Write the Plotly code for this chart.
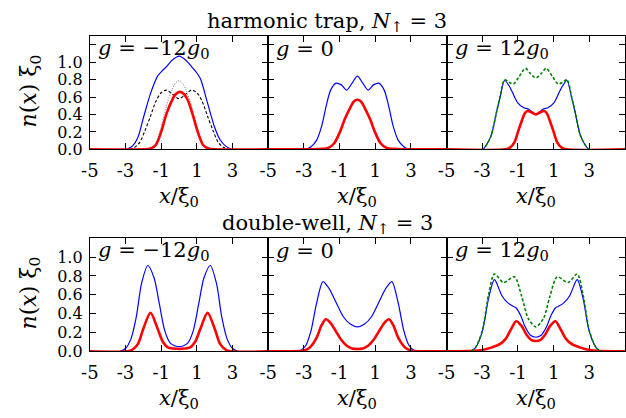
import plotly.graph_objects as go

# ---------------- density profiles n(x) xi_0 ----------------
# harmonic trap, g = -12 g0
ht_neg_blue_x = [-5, -3.05, -2.85, -2.6, -2.3, -2.0, -1.6, -1.2, -0.95, -0.7, -0.4, 0, 0.4, 0.7, 0.95, 1.2, 1.6, 2.0, 2.3, 2.6, 2.85, 3.05, 5]
ht_neg_blue_y = [0, 0, 0.01, 0.04, 0.14, 0.36, 0.64, 0.84, 0.90, 0.95, 1.02, 1.07, 1.02, 0.95, 0.89, 0.81, 0.53, 0.25, 0.11, 0.04, 0.01, 0, 0]
ht_neg_red_x = [-5, -2.0, -1.6, -1.3, -1.0, -0.7, -0.4, -0.2, 0.05, 0.3, 0.5, 0.75, 1.05, 1.35, 1.65, 2.0, 5]
ht_neg_red_y = [0, 0, 0.01, 0.05, 0.20, 0.41, 0.56, 0.63, 0.66, 0.63, 0.56, 0.41, 0.20, 0.05, 0.01, 0, 0]
ht_neg_gray_x = [-5, -2.0, -1.6, -1.3, -1.0, -0.7, -0.4, -0.2, 0, 0.2, 0.4, 0.7, 1.0, 1.3, 1.6, 2.0, 5]
ht_neg_gray_y = [0, 0, 0.01, 0.07, 0.26, 0.50, 0.68, 0.76, 0.79, 0.76, 0.68, 0.50, 0.26, 0.07, 0.01, 0, 0]
ht_neg_dash_x = [-5, -2.8, -2.5, -2.2, -1.9, -1.6, -1.3, -1.0, -0.7, -0.35, 0, 0.35, 0.7, 1.0, 1.3, 1.6, 1.9, 2.2, 2.5, 2.8, 5]
ht_neg_dash_y = [0, 0, 0.02, 0.08, 0.22, 0.38, 0.55, 0.65, 0.68, 0.63, 0.58, 0.63, 0.68, 0.65, 0.55, 0.38, 0.22, 0.08, 0.02, 0, 0]

# harmonic trap, g = 0
ht_zero_blue_x = [-5, -2.9, -2.6, -2.3, -2.0, -1.75, -1.5, -1.2, -0.9, -0.6, -0.3, 0, 0.3, 0.6, 0.9, 1.2, 1.5, 1.75, 2.0, 2.3, 2.6, 2.9, 5]
ht_zero_blue_y = [0, 0, 0.03, 0.10, 0.27, 0.50, 0.68, 0.76, 0.74, 0.68, 0.76, 0.84, 0.76, 0.68, 0.74, 0.76, 0.68, 0.50, 0.27, 0.10, 0.03, 0, 0]
ht_zero_red_x = [-5, -2.0, -1.6, -1.3, -1.0, -0.7, -0.4, -0.2, 0, 0.2, 0.4, 0.7, 1.0, 1.3, 1.6, 2.0, 5]
ht_zero_red_y = [0, 0.005, 0.02, 0.07, 0.19, 0.35, 0.48, 0.55, 0.57, 0.55, 0.48, 0.35, 0.19, 0.07, 0.02, 0.005, 0]

# harmonic trap, g = 12 g0
ht_pos_blue_x = [-5, -3.0, -2.8, -2.5, -2.2, -2.0, -1.75, -1.5, -1.3, -1.0, -0.7, -0.4, 0, 0.4, 0.7, 1.0, 1.3, 1.5, 1.75, 2.0, 2.2, 2.5, 2.8, 3.0, 5]
ht_pos_blue_y = [0, 0, 0.04, 0.16, 0.43, 0.60, 0.79, 0.73, 0.65, 0.53, 0.48, 0.46, 0.40, 0.46, 0.48, 0.53, 0.65, 0.73, 0.79, 0.60, 0.43, 0.16, 0.04, 0, 0]
ht_pos_green_x = [-5, -3.0, -2.8, -2.5, -2.2, -2.0, -1.75, -1.5, -1.25, -0.95, -0.58, -0.3, 0, 0.3, 0.58, 0.95, 1.25, 1.5, 1.75, 2.0, 2.2, 2.5, 2.8, 3.0, 5]
ht_pos_green_y = [0, 0, 0.04, 0.16, 0.43, 0.61, 0.80, 0.77, 0.75, 0.83, 0.93, 0.87, 0.82, 0.87, 0.93, 0.83, 0.75, 0.77, 0.80, 0.61, 0.43, 0.16, 0.04, 0, 0]
ht_pos_red_x = [-5, -1.7, -1.45, -1.2, -1.0, -0.8, -0.6, -0.45, -0.2, 0, 0.2, 0.45, 0.6, 0.8, 1.0, 1.2, 1.45, 1.7, 5]
ht_pos_red_y = [0, 0, 0.02, 0.08, 0.20, 0.32, 0.42, 0.44, 0.42, 0.40, 0.42, 0.44, 0.42, 0.32, 0.20, 0.08, 0.02, 0, 0]

# double-well, g = -12 g0
dw_neg_blue_x = [-5, -3.3, -3.0, -2.7, -2.4, -2.1, -1.75, -1.4, -1.1, -0.8, -0.5, -0.25, 0, 0.25, 0.5, 0.8, 1.1, 1.4, 1.75, 2.1, 2.4, 2.7, 3.0, 3.3, 5]
dw_neg_blue_y = [0, 0, 0.03, 0.13, 0.36, 0.72, 0.91, 0.78, 0.50, 0.22, 0.09, 0.06, 0.05, 0.06, 0.09, 0.22, 0.50, 0.78, 0.91, 0.72, 0.36, 0.13, 0.03, 0, 0]
dw_neg_red_x = [-5, -2.9, -2.6, -2.3, -2.0, -1.6, -1.2, -0.9, -0.6, -0.3, 0, 0.3, 0.6, 0.9, 1.2, 1.6, 2.0, 2.3, 2.6, 2.9, 5]
dw_neg_red_y = [0, 0, 0.02, 0.08, 0.24, 0.41, 0.24, 0.10, 0.04, 0.03, 0.025, 0.03, 0.04, 0.10, 0.24, 0.41, 0.24, 0.08, 0.02, 0, 0]

# double-well, g = 0
dw_zero_blue_x = [-5, -3.2, -2.9, -2.6, -2.3, -1.93, -1.6, -1.2, -0.8, -0.4, 0, 0.4, 0.8, 1.2, 1.6, 1.93, 2.3, 2.6, 2.9, 3.2, 5]
dw_zero_blue_y = [0, 0.01, 0.06, 0.22, 0.50, 0.74, 0.67, 0.52, 0.37, 0.29, 0.26, 0.29, 0.37, 0.52, 0.67, 0.74, 0.50, 0.22, 0.06, 0.01, 0]
dw_zero_red_x = [-5, -3.0, -2.7, -2.3, -2.0, -1.77, -1.5, -1.2, -0.9, -0.6, -0.3, 0, 0.3, 0.6, 0.9, 1.2, 1.5, 1.77, 2.0, 2.3, 2.7, 3.0, 5]
dw_zero_red_y = [0, 0.01, 0.035, 0.14, 0.28, 0.34, 0.30, 0.21, 0.12, 0.06, 0.03, 0.025, 0.03, 0.06, 0.12, 0.21, 0.30, 0.34, 0.28, 0.14, 0.035, 0.01, 0]

# double-well, g = 12 g0
dw_pos_blue_x = [-5, -3.7, -3.4, -3.0, -2.65, -2.32, -1.9, -1.6, -1.3, -1.1, -0.85, -0.6, -0.3, 0, 0.3, 0.6, 0.85, 1.1, 1.3, 1.6, 1.9, 2.32, 2.65, 3.0, 3.4, 3.7, 5]
dw_pos_blue_y = [0, 0, 0.035, 0.21, 0.56, 0.76, 0.59, 0.52, 0.48, 0.46, 0.38, 0.26, 0.17, 0.15, 0.17, 0.26, 0.38, 0.46, 0.48, 0.52, 0.59, 0.76, 0.56, 0.21, 0.035, 0, 0]
dw_pos_green_x = [-5, -3.7, -3.4, -3.0, -2.65, -2.32, -1.81, -1.2, -0.8, -0.43, 0, 0.43, 0.8, 1.2, 1.81, 2.32, 2.65, 3.0, 3.4, 3.7, 5]
dw_pos_green_y = [0, 0, 0.035, 0.22, 0.60, 0.82, 0.73, 0.79, 0.59, 0.35, 0.26, 0.35, 0.59, 0.79, 0.73, 0.82, 0.60, 0.22, 0.035, 0, 0]
dw_pos_red_x = [-5, -3.5, -3.0, -2.5, -2.0, -1.7, -1.4, -1.1, -0.8, -0.5, -0.25, 0, 0.25, 0.5, 0.8, 1.1, 1.4, 1.7, 2.0, 2.5, 3.0, 3.5, 5]
dw_pos_red_y = [0, 0.005, 0.015, 0.04, 0.08, 0.13, 0.23, 0.32, 0.27, 0.17, 0.12, 0.11, 0.12, 0.17, 0.27, 0.32, 0.23, 0.13, 0.08, 0.04, 0.015, 0.005, 0]

# ---------------- axes ----------------
x_tickvals = [-5, -3, -1, 1, 3]
x_ticktext = ["-5", "-3", "-1", "1", "3"]
y_tickvals = [0.0, 0.2, 0.4, 0.6, 0.8, 1.0, 1.2]
y_ticktext = ["0.0", "0.2", "0.4", "0.6", "0.8", "1.0", ""]
panel_labels = ["<i>g</i> = −12<i>g</i><sub>0</sub>", "<i>g</i> = 0", "<i>g</i> = 12<i>g</i><sub>0</sub>"]
row_titles = ["harmonic trap, <i>N</i><sub>↑</sub> = 3", "double-well, <i>N</i><sub>↑</sub> = 3"]
row_ymax = [1.3, 1.2]

W, H = 626, 418
FONT = "DejaVu Serif"
BLUE, RED, GREEN = "#0000ff", "#ff0000", "#008000"

# panel boxes in pixels: columns (left, right), rows (top, bottom)
col_px = [(82, 263), (263, 444), (444, 625)]
row_px = [(37, 153), (244, 360)]


def fx(px):
    return px / W


def fy(py):
    return 1 - py / H


panels = [
    # (row, col, traces)
    (0, 0, [(ht_neg_blue_x, ht_neg_blue_y, BLUE, 1.2, "solid"),
            (ht_neg_dash_x, ht_neg_dash_y, "black", 1.1, "3px,2px"),
            (ht_neg_gray_x, ht_neg_gray_y, "#7a7a7a", 1.0, "1px,1.5px"),
            (ht_neg_red_x, ht_neg_red_y, RED, 2.6, "solid")]),
    (0, 1, [(ht_zero_blue_x, ht_zero_blue_y, BLUE, 1.2, "solid"),
            (ht_zero_red_x, ht_zero_red_y, RED, 2.6, "solid")]),
    (0, 2, [(ht_pos_blue_x, ht_pos_blue_y, BLUE, 1.2, "solid"),
            (ht_pos_red_x, ht_pos_red_y, RED, 2.6, "solid"),
            (ht_pos_green_x, ht_pos_green_y, GREEN, 1.6, "3px,2px")]),
    (1, 0, [(dw_neg_blue_x, dw_neg_blue_y, BLUE, 1.2, "solid"),
            (dw_neg_red_x, dw_neg_red_y, RED, 2.6, "solid")]),
    (1, 1, [(dw_zero_blue_x, dw_zero_blue_y, BLUE, 1.2, "solid"),
            (dw_zero_red_x, dw_zero_red_y, RED, 2.6, "solid")]),
    (1, 2, [(dw_pos_blue_x, dw_pos_blue_y, BLUE, 1.2, "solid"),
            (dw_pos_red_x, dw_pos_red_y, RED, 2.6, "solid"),
            (dw_pos_green_x, dw_pos_green_y, GREEN, 1.6, "3px,2px")]),
]

fig = go.Figure()
layout = dict(
    width=W, height=H,
    margin=dict(l=0, r=0, t=0, b=0),
    paper_bgcolor="white", plot_bgcolor="white",
    showlegend=False,
    font=dict(family=FONT, size=18, color="black"),
)
annotations = []

for i, (r, c, traces) in enumerate(panels):
    n = i + 1
    xa = "xaxis" if n == 1 else f"xaxis{n}"
    ya = "yaxis" if n == 1 else f"yaxis{n}"
    xref = "x" if n == 1 else f"x{n}"
    yref = "y" if n == 1 else f"y{n}"
    for xs, ys, color, width, dash in traces:
        fig.add_trace(go.Scatter(
            x=xs, y=ys, mode="lines", xaxis=xref, yaxis=yref,
            line=dict(color=color, width=width, dash=dash, shape="spline", smoothing=0.8),
            hoverinfo="skip",
        ))
    left, right = col_px[c]
    top, bottom = row_px[r]
    layout[xa] = dict(
        domain=[fx(left), fx(right)], anchor=yref, range=[-5, 5],
        tickvals=x_tickvals, ticktext=x_ticktext, ticks="inside", ticklen=6,
        tickcolor="black", showline=True, linecolor="black", linewidth=1,
        mirror="allticks", showgrid=False, zeroline=False,
        tickfont=dict(family=FONT, size=18), ticklabelstandoff=5,
    )
    layout[ya] = dict(
        domain=[fy(bottom), fy(top)], anchor=xref, range=[0, row_ymax[r]],
        tickvals=y_tickvals, ticktext=y_ticktext, ticks="inside", ticklen=6,
        tickcolor="black", showline=True, linecolor="black", linewidth=1,
        mirror="allticks", showgrid=False, zeroline=False,
        showticklabels=(c == 0), tickfont=dict(family=FONT, size=16),
        ticklabelstandoff=3,
    )
    # panel label in the upper-left corner
    annotations.append(dict(
        x=fx(left + 6), y=fy(top + 13), xref="paper", yref="paper",
        xanchor="left", yanchor="middle", showarrow=False,
        text=panel_labels[c], font=dict(family=FONT, size=21),
    ))
    # x-axis title under each panel
    annotations.append(dict(
        x=fx((left + right) / 2), y=fy(bottom + 49), xref="paper", yref="paper",
        xanchor="center", yanchor="middle", showarrow=False,
        text="<i>x</i>/ξ<sub>0</sub>", font=dict(family=FONT, size=21),
    ))

for r in range(2):
    top, bottom = row_px[r]
    annotations.append(dict(
        x=fx(323), y=fy(top - 14), xref="paper", yref="paper",
        xanchor="center", yanchor="middle", showarrow=False,
        text=row_titles[r], font=dict(family=FONT, size=21),
    ))
    annotations.append(dict(
        x=fx(22), y=fy((top + bottom) / 2 - 2), xref="paper", yref="paper",
        xanchor="center", yanchor="middle", showarrow=False, textangle=-90,
        text="<i>n</i>(<i>x</i>) ξ<sub>0</sub>", font=dict(family=FONT, size=22),
    ))

layout["annotations"] = annotations
fig.update_layout(**layout)
fig.write_html("out.html")
